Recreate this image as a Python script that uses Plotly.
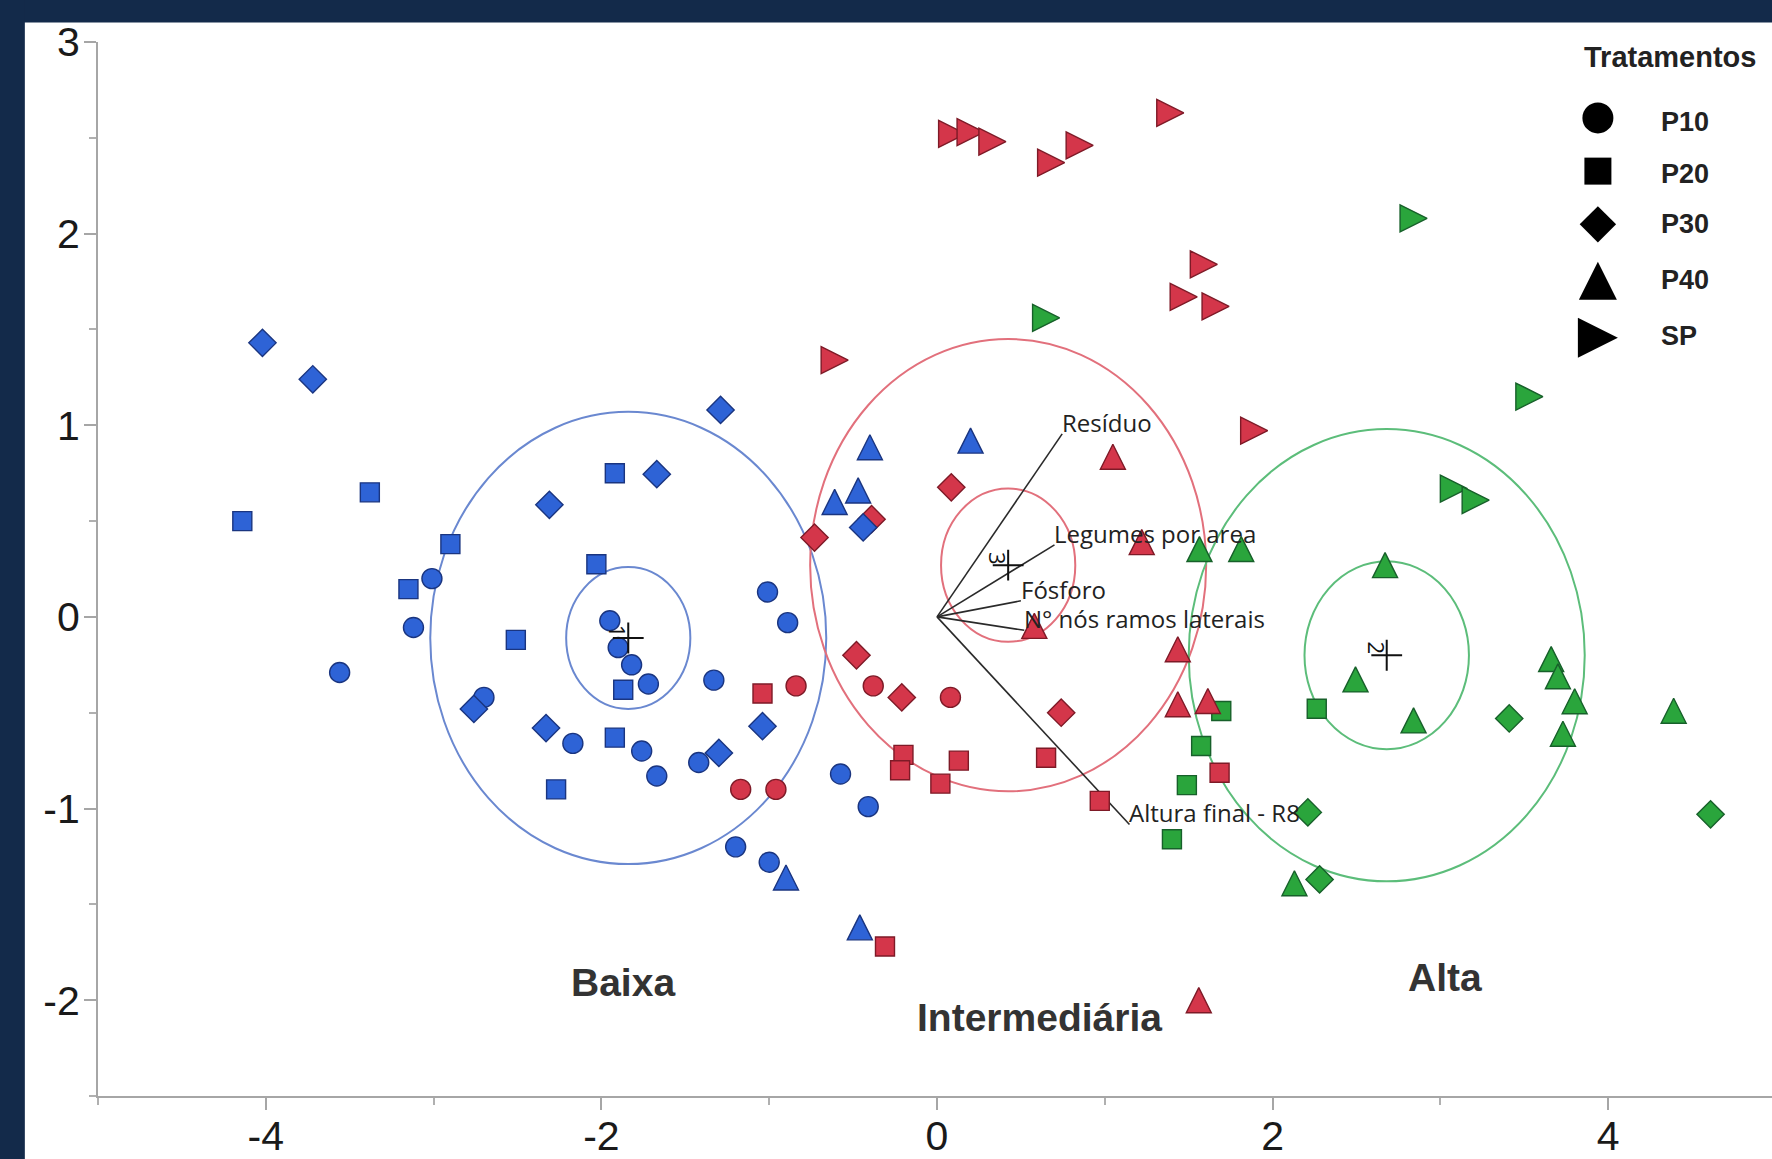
import plotly.graph_objects as go

# ---------------- data ----------------
# Baixa (blue group)
baixa_p10_x = [-3.01, -3.12, -3.56, -2.70, -1.95, -1.90, -1.82, -1.72, -2.17, -1.76, -1.67, -1.42, -1.33, -1.01, -0.89, -1.20, -1.00, -0.575, -0.41]
baixa_p10_y = [0.20, -0.055, -0.29, -0.42, -0.02, -0.16, -0.25, -0.35, -0.66, -0.70, -0.83, -0.76, -0.33, 0.13, -0.03, -1.20, -1.28, -0.82, -0.99]
baixa_p20_x = [-4.14, -3.38, -2.90, -3.15, -2.51, -1.92, -2.03, -1.87, -1.92, -2.27]
baixa_p20_y = [0.50, 0.65, 0.38, 0.145, -0.12, 0.75, 0.275, -0.38, -0.63, -0.90]
baixa_p30_x = [-4.02, -3.72, -1.29, -1.67, -2.31, -2.76, -2.33, -1.30, -1.04, -0.44]
baixa_p30_y = [1.43, 1.24, 1.08, 0.745, 0.585, -0.48, -0.58, -0.71, -0.57, 0.467]
baixa_p40_x = [-0.90, -0.40, 0.20, -0.61, -0.47, -0.46]
baixa_p40_y = [-1.36, 0.885, 0.92, 0.60, 0.66, -1.62]

# Intermediária (red group)
inter_p10_x = [-0.84, -0.38, 0.08, -1.17, -0.96]
inter_p10_y = [-0.36, -0.36, -0.42, -0.90, -0.90]
inter_p20_x = [-1.04, -0.20, -0.22, 0.02, 0.13, 0.65, 0.97, -0.31, 1.684]
inter_p20_y = [-0.40, -0.72, -0.80, -0.87, -0.75, -0.735, -0.96, -1.72, -0.813]
inter_p30_x = [0.085, -0.73, -0.39, -0.48, -0.21, 0.74]
inter_p30_y = [0.676, 0.414, 0.51, -0.20, -0.42, -0.50]
inter_p40_x = [1.048, 1.22, 0.58, 1.435, 1.435, 1.614, 1.56]
inter_p40_y = [0.836, 0.39, -0.047, -0.169, -0.456, -0.439, -2.00]
inter_sp_x = [0.09, 0.20, 0.33, 0.68, 0.85, 1.39, 1.59, 1.47, 1.66, -0.61, 1.89]
inter_sp_y = [2.52, 2.53, 2.48, 2.37, 2.46, 2.63, 1.84, 1.67, 1.62, 1.34, 0.972]

# Alta (green group)
alta_p20_x = [1.694, 1.574, 1.489, 1.40, 2.263]
alta_p20_y = [-0.491, -0.674, -0.878, -1.16, -0.479]
alta_p30_x = [3.41, 4.61, 2.21, 2.28]
alta_p30_y = [-0.53, -1.03, -1.02, -1.37]
alta_p40_x = [1.564, 1.813, 2.67, 2.494, 2.84, 3.66, 3.70, 3.80, 3.73, 4.39, 2.13]
alta_p40_y = [0.354, 0.354, 0.27, -0.326, -0.54, -0.22, -0.31, -0.44, -0.61, -0.49, -1.39]
alta_sp_x = [2.84, 0.65, 3.53, 3.08, 3.21]
alta_sp_y = [2.08, 1.56, 1.15, 0.67, 0.61]

# group centres and circle radii (outer / inner)
group_names = ["Baixa", "Intermediária", "Alta"]
centre_x = [-1.84, 0.424, 2.68]
centre_y = [-0.11, 0.27, -0.20]
centre_ids = ["1", "3", "2"]
outer_r = [1.18, 1.18, 1.18]
inner_r = [0.37, 0.40, 0.49]

# group label positions
group_label_x = [-1.87, 0.61, 3.03]
group_label_y = [-1.91, -2.09, -1.88]

# biplot rays
ray_names = ["Resíduo", "Legumes por area", "Fósforo", "N° nós ramos laterais", "Altura final - R8"]
ray_x = [0.746, 0.70, 0.50, 0.52, 1.147]
ray_y = [0.955, 0.376, 0.084, -0.07, -1.083]

# legend
treatments = ["P10", "P20", "P30", "P40", "SP"]

# axis ticks
x_ticks = [-4, -2, 0, 2, 4]
y_ticks = [-2, -1, 0, 1, 2, 3]
x_minor = [-5, -3, -1, 1, 3]
y_minor = [-2.5, -1.5, -0.5, 0.5, 1.5, 2.5]

# ---------------- style ----------------
FILL = {"Baixa": "#2e63d6", "Intermediária": "#d4364a", "Alta": "#2aa53c"}
EDGE = {"Baixa": "#1a3580", "Intermediária": "#7e1a27", "Alta": "#17602a"}
RING = {"Baixa": "#6a88d0", "Intermediária": "#e2707c", "Alta": "#5cbd7a"}
NAVY = "#132a4a"
SANS = "Liberation Sans, Arial, sans-serif"

SYM = {"P10": "circle", "P20": "square", "P30": "diamond", "P40": "arrow-down", "SP": "arrow-down"}
ANG = {"P10": 0, "P20": 0, "P30": 0, "P40": 180, "SP": 270}
SIZE = {"P10": 20, "P20": 19, "P30": 21, "P40": 25, "SP": 27}

fig = go.Figure()

# biplot rays (drawn beneath the points)
rx, ry = [], []
for x, y in zip(ray_x, ray_y):
    rx += [0, x, None]
    ry += [0, y, None]
fig.add_trace(go.Scatter(x=rx, y=ry, mode="lines", line=dict(color="#2a2a2a", width=1.6),
                         showlegend=False, hoverinfo="skip"))

series = [
    ("Alta", "P20", alta_p20_x, alta_p20_y),
    ("Alta", "P30", alta_p30_x, alta_p30_y),
    ("Alta", "P40", alta_p40_x, alta_p40_y),
    ("Alta", "SP", alta_sp_x, alta_sp_y),
    ("Intermediária", "P10", inter_p10_x, inter_p10_y),
    ("Intermediária", "P20", inter_p20_x, inter_p20_y),
    ("Intermediária", "P30", inter_p30_x, inter_p30_y),
    ("Intermediária", "P40", inter_p40_x, inter_p40_y),
    ("Intermediária", "SP", inter_sp_x, inter_sp_y),
    ("Baixa", "P10", baixa_p10_x, baixa_p10_y),
    ("Baixa", "P20", baixa_p20_x, baixa_p20_y),
    ("Baixa", "P30", baixa_p30_x, baixa_p30_y),
    ("Baixa", "P40", baixa_p40_x, baixa_p40_y),
]
for grp, trt, xs, ys in series:
    s = SIZE[trt]
    marker = dict(symbol=SYM[trt], size=s, color=FILL[grp],
                  line=dict(color=EDGE[grp], width=1.4), angle=ANG[trt])
    if SYM[trt].startswith("arrow"):
        marker["standoff"] = s / 2
    fig.add_trace(go.Scatter(x=xs, y=ys, mode="markers", marker=marker,
                             name=f"{grp} {trt}", showlegend=False, cliponaxis=False))

# group centres
fig.add_trace(go.Scatter(x=centre_x, y=centre_y, mode="markers",
                         marker=dict(symbol="cross-thin", size=22, line=dict(color="#111", width=2)),
                         showlegend=False, hoverinfo="skip"))

# circles
shapes = []
for i, g in enumerate(group_names):
    for r in (outer_r[i], inner_r[i]):
        shapes.append(dict(type="circle", xref="x", yref="y",
                           x0=centre_x[i] - r, x1=centre_x[i] + r,
                           y0=centre_y[i] - r, y1=centre_y[i] + r,
                           line=dict(color=RING[g], width=2), layer="below"))
# navy frame (top and left strips)
shapes.append(dict(type="rect", xref="paper", yref="paper", x0=-0.1, x1=1.1, y0=1.0185, y1=1.1,
                   fillcolor=NAVY, line=dict(width=0), layer="above"))
shapes.append(dict(type="rect", xref="paper", yref="paper", x0=-0.1, x1=-0.0437, y0=-0.1, y1=1.1,
                   fillcolor=NAVY, line=dict(width=0), layer="above"))

annotations = []
for i, g in enumerate(group_names):
    annotations.append(dict(x=centre_x[i], y=centre_y[i], xref="x", yref="y", text=centre_ids[i],
                            showarrow=False, textangle=90, xshift=-10, yshift=7,
                            font=dict(family="Open Sans, sans-serif", size=22, color="#111")))
    annotations.append(dict(x=group_label_x[i], y=group_label_y[i], xref="x", yref="y",
                            text=f"<b>{g}</b>", showarrow=False,
                            font=dict(family=SANS, size=39, color="#333333")))
for name, x, y in zip(ray_names, ray_x, ray_y):
    annotations.append(dict(x=x, y=y, xref="x", yref="y", text=name, showarrow=False,
                            xanchor="left", yanchor="bottom", xshift=-2, yshift=-7,
                            font=dict(family="Open Sans, sans-serif", size=24, color="#222")))

# legend drawn on an overlay axis (fractions of the plot area)
leg_y = [0.928, 0.8775, 0.827, 0.7735, 0.7195]
leg_size = {"P10": 31, "P20": 27, "P30": 28, "P40": 38, "SP": 40}
for t, yy in zip(treatments, leg_y):
    s = leg_size[t]
    marker = dict(symbol=SYM[t], size=s, color="#000", line=dict(width=0), angle=ANG[t])
    if SYM[t].startswith("arrow"):
        marker["standoff"] = s / 2
    fig.add_trace(go.Scatter(x=[0.896], y=[yy], xaxis="x2", yaxis="y2", mode="markers",
                             marker=marker, name=t, showlegend=False, cliponaxis=False,
                             hoverinfo="skip"))
leg_text_y = [0.924, 0.875, 0.827, 0.774, 0.721]
for t, yy in zip(treatments, leg_text_y):
    annotations.append(dict(x=0.9325, y=yy, xref="paper", yref="paper", text=f"<b>{t}</b>",
                            showarrow=False, xanchor="left", yanchor="middle",
                            font=dict(family=SANS, size=27, color="#222")))
annotations.append(dict(x=0.8865, y=0.986, xref="paper", yref="paper", text="<b>Tratamentos</b>",
                        showarrow=False, xanchor="left", yanchor="middle",
                        font=dict(family=SANS, size=29, color="#222")))

axis_common = dict(showgrid=False, zeroline=False, showline=True, linecolor="#a6a6a6", linewidth=2,
                   ticks="outside", tickcolor="#a6a6a6", tickwidth=1.5, ticklen=12,
                   automargin=False,
                   tickfont=dict(family=SANS, size=41, color="#1a1a1a"))

fig.update_layout(
    width=1772, height=1159,
    margin=dict(l=98, r=0, t=42, b=63),
    paper_bgcolor="white", plot_bgcolor="white",
    xaxis=dict(range=[-5, 4.976], tickvals=x_ticks, ticktext=[str(v) for v in x_ticks],
               minor=dict(tickvals=x_minor, ticks="outside", ticklen=7, tickcolor="#b0b0b0", tickwidth=1.5),
               ticklabelstandoff=-9, **axis_common),
    yaxis=dict(range=[-2.5, 3.0], tickvals=y_ticks, ticktext=[str(v) for v in y_ticks],
               minor=dict(tickvals=y_minor, ticks="outside", ticklen=7, tickcolor="#b0b0b0", tickwidth=1.5),
               ticklabelstandoff=-4, **axis_common),
    xaxis2=dict(domain=[0, 1], range=[0, 1], overlaying="x", anchor="y2", visible=False),
    yaxis2=dict(domain=[0, 1], range=[0, 1], overlaying="y", anchor="x2", visible=False),
    shapes=shapes, annotations=annotations, showlegend=False,
)

fig.write_html("out.html", config={"displayModeBar": False},
               post_script="document.body.style.margin='0';")
